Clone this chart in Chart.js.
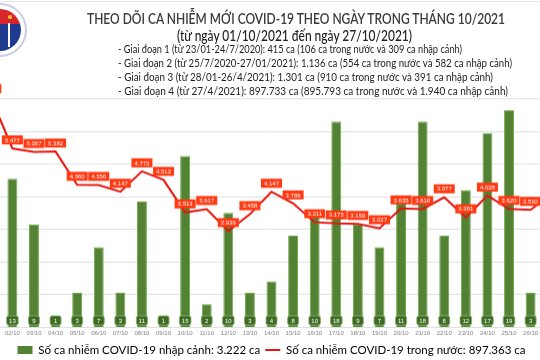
<!DOCTYPE html>
<html>
<head>
<meta charset="utf-8">
<script src="https://cdn.jsdelivr.net/npm/chart.js@4/dist/chart.umd.min.js"></script>
<style>
  html, body { margin:0; padding:0; background:#fff; }
  body { width:540px; height:360px; overflow:hidden; position:relative; }
  #wrap { position:absolute; left:-21.5px; top:0; width:585px; height:360px; }
  .t { position:absolute; white-space:nowrap; color:#333; z-index:2; transform-origin:0 0; line-height:1; }
  #title { top:10px; font:600 14.5px Lato, sans-serif; color:#3a3a3a; }
  #sub { top:26px; font:500 15px Lato, sans-serif; color:#222; }
  .info { font:400 10.5px Lato, sans-serif; color:#222; }
  #topline { position:absolute; left:0; top:1px; width:540px; height:1px; background:#e3e3e3; z-index:1; }
  #logo { position:absolute; left:-27px; top:3px; width:54px; height:54px; border-radius:50%;
          background:#fff; border:2px solid #c9cde0; box-sizing:border-box; z-index:2; overflow:hidden; }
  #logo .in { position:absolute; left:4px; top:4px; width:42px; height:42px; border-radius:50%; overflow:hidden;
          background:linear-gradient(#d9252a 0 36%, #1f3b8f 36% 100%); }
  #logo .rod { position:absolute; left:29px; top:14px; width:2px; height:24px; background:#fff; }
  #logo .star { position:absolute; left:29px; top:6px; width:4px; height:4px; background:#f5d02a; border-radius:50%; }
</style>
</head>
<body>
<div id="topline"></div>
<div id="logo"><div class="in"><div class="star"></div><div class="rod"></div></div></div>
<div class="t" id="title" data-x="87" data-w="418">THEO DÕI CA NHIỄM MỚI COVID-19 THEO NGÀY TRONG THÁNG 10/2021</div>
<div class="t" id="sub" data-x="177" data-w="235">(từ ngày 01/10/2021 đến ngày 27/10/2021)</div>
<div class="t info" style="top:43px" data-x="118" data-w="344">- Giai đoạn 1 (từ 23/01-24/7/2020): 415 ca (106 ca trong nước và 309 ca nhập cảnh)</div>
<div class="t info" style="top:57px" data-x="118" data-w="394">- Giai đoạn 2 (từ 25/7/2020-27/01/2021): 1.136 ca (554 ca trong nước và 582 ca nhập cảnh)</div>
<div class="t info" style="top:71px" data-x="118" data-w="375">- Giai đoạn 3 (từ 28/01-26/4/2021): 1.301 ca (910 ca trong nước và 391 ca nhập cảnh)</div>
<div class="t info" style="top:85px" data-x="118" data-w="390">- Giai đoạn 4 (từ 27/4/2021): 897.733 ca (895.793 ca trong nước và 1.940 ca nhập cảnh)</div>
<div id="wrap"><canvas id="c"></canvas></div>
<script>
const categories = ['01/10','02/10','03/10','04/10','05/10','06/10','07/10','08/10','09/10','10/10',
  '11/10','12/10','13/10','14/10','15/10','16/10','17/10','18/10','19/10','20/10',
  '21/10','22/10','23/10','24/10','25/10','26/10','27/10'];
const importedCases = [null,13,9,1,3,7,3,11,1,15,2,10,3,4,8,10,18,9,7,11,18,8,12,17,19,3,null];
const domesticCases = [7050,5477,5367,5382,4360,4356,4147,4773,4512,3513,3617,2939,3458,4147,3789,
  3211,3175,3159,3027,3635,3618,3977,3361,4028,3620,3592,4100];
const importedLabel = 'Số ca nhiễm COVID-19 nhập cảnh: 3.222 ca';
const domesticLabel = 'Số ca nhiễm COVID-19 trong nước: 897.363 ca';

// fit header texts to their measured widths in the reference
document.querySelectorAll('.t').forEach(el => {
  const tw = parseFloat(el.dataset.w), x = parseFloat(el.dataset.x);
  const nw = el.getBoundingClientRect().width;
  el.style.left = x + 'px';
  el.style.transform = 'scaleX(' + (tw / nw) + ')';
});

const BAR_COLOR = '#548235';
const LINE_COLOR = '#e8140e';
const PLOT_BOTTOM = 326;

function fmt(v){ return v.toLocaleString('de-DE'); }
function rrect(ctx,x,y,w,h,r){
  ctx.beginPath();
  ctx.moveTo(x+r,y); ctx.lineTo(x+w-r,y); ctx.quadraticCurveTo(x+w,y,x+w,y+r);
  ctx.lineTo(x+w,y+h-r); ctx.quadraticCurveTo(x+w,y+h,x+w-r,y+h);
  ctx.lineTo(x+r,y+h); ctx.quadraticCurveTo(x,y+h,x,y+h-r);
  ctx.lineTo(x,y+r); ctx.quadraticCurveTo(x,y,x+r,y); ctx.closePath();
}
const valueLabels = {
  id:'valueLabels',
  afterDatasetsDraw(chart){
    const ctx = chart.ctx;
    ctx.save();
    ctx.font = '6px "Liberation Sans", Arial, sans-serif';
    ctx.textAlign = 'center'; ctx.textBaseline = 'middle';
    const bm = chart.getDatasetMeta(0);
    bm.data.forEach((el,i)=>{
      const v = chart.data.datasets[0].data[i]; if (v == null) return;
      const p = el.getProps(['x','base'], true);
      const t = String(v); const w = Math.max(11, ctx.measureText(t).width + 5); const h = 9;
      const cy = p.base - 6.5;
      rrect(ctx, p.x - w/2, cy - h/2, w, h, 2);
      ctx.fillStyle = '#3f6a25'; ctx.fill();
      ctx.lineWidth = 0.8; ctx.strokeStyle = '#86b66a'; ctx.stroke();
      ctx.fillStyle = '#fff'; ctx.fillText(t, p.x, cy + 0.5);
    });
    const lm = chart.getDatasetMeta(1);
    lm.data.forEach((el,i)=>{
      const v = chart.data.datasets[1].data[i]; if (v == null) return;
      const p = el.getProps(['x','y'], true);
      const t = fmt(v); const w = ctx.measureText(t).width + 6; const h = 9;
      const cy = p.y - 8.5;
      ctx.fillStyle = '#ff3a12'; ctx.fillRect(p.x - w/2, cy - h/2, w, h);
      ctx.fillStyle = '#fff'; ctx.fillText(t, p.x, cy + 0.5);
    });
    ctx.restore();
  }
};

const chart = new Chart(document.getElementById('c'), {
  data: {
    labels: categories,
    datasets: [
      { type:'bar', label: importedLabel, data: importedCases, yAxisID:'y',
        backgroundColor: BAR_COLOR, borderColor:'#6ea94a', borderWidth:1,
        barPercentage:0.92, categoryPercentage:0.5, order:1 },
      { type:'line', label: domesticLabel, data: domesticCases, yAxisID:'y1',
        borderColor: LINE_COLOR, borderWidth:2, pointRadius:0, tension:0, fill:false,
        clip:false, order:0 }
    ]
  },
  options: {
    responsive:true, maintainAspectRatio:false, animation:false,
    layout:{ padding:{ top:98.5, left:0, right:0, bottom:0 } },
    plugins:{
      tooltip:{enabled:false},
      legend:{
        position:'bottom',
        labels:{
          usePointStyle:true, pointStyleWidth:15, boxHeight:8, padding:5,
          color:'#222',
          font:{ family:'Lato, "Liberation Sans", sans-serif', size:11.5 },
          generateLabels(chart){
            return [
              { text: importedLabel, fillStyle: BAR_COLOR, strokeStyle: BAR_COLOR, lineWidth:0,
                pointStyle:'rect', datasetIndex:0, hidden:false },
              { text: domesticLabel, fillStyle: LINE_COLOR, strokeStyle: LINE_COLOR, lineWidth:2,
                pointStyle:'line', datasetIndex:1, hidden:false }
            ];
          }
        }
      }
    },
    scales:{
      x:{ grid:{display:false, drawTicks:false}, border:{display:false},
          ticks:{ color:'#7f7f7f', font:{ family:'"Liberation Sans", Arial, sans-serif', size:6 }, padding:2.5,
                  maxRotation:0, autoSkip:false } },
      y:{ display:false, min:0, max:20 },
      y1:{ position:'right', min:0, max:7000, display:true,
           ticks:{ display:false, stepSize:1000 }, border:{display:false},
           grid:{ color:'#dedede', lineWidth:1, drawTicks:false } }
    }
  },
  plugins:[valueLabels]
});
// grow the (clipped) canvas so the plot bottom sits where the reference has it
const delta = PLOT_BOTTOM - chart.chartArea.bottom;
if (Math.abs(delta) > 0.3) {
  document.getElementById('wrap').style.height = (360 + delta) + 'px';
  chart.resize();
}
</script>
</body>
</html>
